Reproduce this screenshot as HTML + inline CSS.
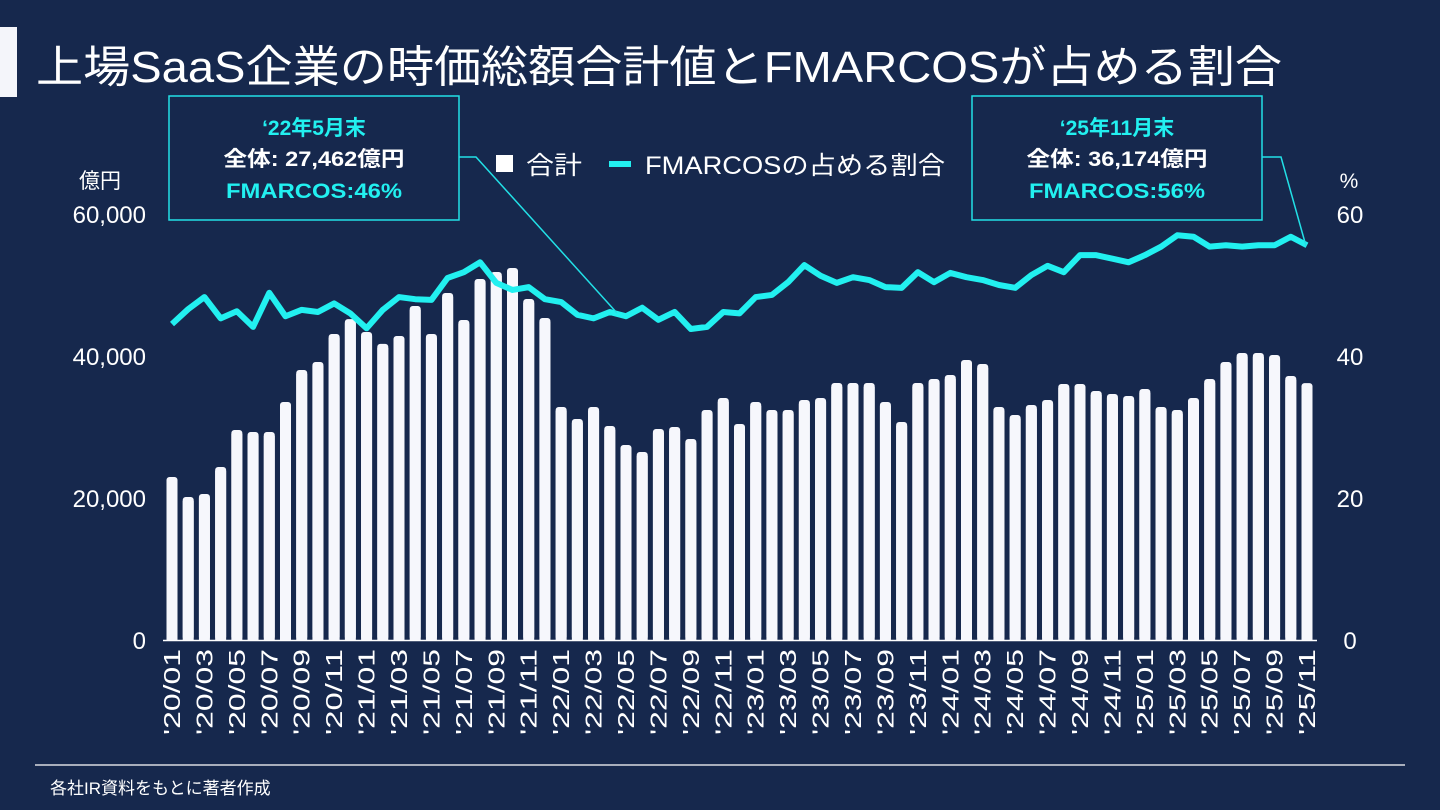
<!DOCTYPE html>
<html><head><meta charset="utf-8"><style>
body{margin:0;width:1440px;height:810px;background:#16284d;overflow:hidden;font-family:"Liberation Sans","Noto Sans CJK JP",sans-serif;color:#fff}
</style></head><body>
<svg width="1440" height="810" xmlns="http://www.w3.org/2000/svg" style="position:absolute;left:0;top:0">
<rect x="0" y="27" width="17" height="70" fill="#f4f5fa"/>
<text x="36" y="82" font-size="44" fill="#fff" textLength="1246" lengthAdjust="spacingAndGlyphs">上場SaaS企業の時価総額合計値とFMARCOSが占める割合</text>
<g id="axes"></g><g id="bars"></g><g id="line"></g>
<g>
<rect x="496" y="155" width="17" height="17" fill="#fff"/>
<text x="526" y="174" font-size="25" fill="#fff" textLength="56" lengthAdjust="spacingAndGlyphs">合計</text>
<line x1="609" y1="164" x2="631" y2="164" stroke="#22f0f0" stroke-width="6"/>
<text x="645" y="174" font-size="25" fill="#fff" textLength="300" lengthAdjust="spacingAndGlyphs">FMARCOSの占める割合</text>
</g>
<g>
<rect x="169" y="96" width="290" height="124" fill="#16284d" stroke="#22e0e6" stroke-width="1.5"/>
<polyline points="459,157 476,157 617,313" fill="none" stroke="#22e0e6" stroke-width="1.5"/>
<text x="314" y="135" font-size="21" font-weight="bold" fill="#22f0f0" text-anchor="middle">‘22年5月末</text>
<text x="314" y="166" font-size="21" font-weight="bold" fill="#fff" text-anchor="middle" textLength="181" lengthAdjust="spacingAndGlyphs">全体: 27,462億円</text>
<text x="314" y="198" font-size="21" font-weight="bold" fill="#22f0f0" text-anchor="middle" textLength="176" lengthAdjust="spacingAndGlyphs">FMARCOS:46%</text>
</g>
<g>
<rect x="972" y="96" width="290" height="124" fill="#16284d" stroke="#22e0e6" stroke-width="1.5"/>
<polyline points="1262,157 1281,157 1306,246" fill="none" stroke="#22e0e6" stroke-width="1.5"/>
<text x="1117" y="135" font-size="21" font-weight="bold" fill="#22f0f0" text-anchor="middle">‘25年11月末</text>
<text x="1117" y="166" font-size="21" font-weight="bold" fill="#fff" text-anchor="middle" textLength="181" lengthAdjust="spacingAndGlyphs">全体: 36,174億円</text>
<text x="1117" y="198" font-size="21" font-weight="bold" fill="#22f0f0" text-anchor="middle" textLength="176" lengthAdjust="spacingAndGlyphs">FMARCOS:56%</text>
</g>
<text x="100" y="188" font-size="21" fill="#fff" text-anchor="middle">億円</text>
<text x="1349" y="188" font-size="21" fill="#fff" text-anchor="middle">%</text>
<line x1="35" y1="765" x2="1405" y2="765" stroke="#fff" stroke-width="1.2"/>
<text x="50" y="794" font-size="17" fill="#fff">各社IR資料をもとに著者作成</text>
</svg>
<script>
const totals=[22960,20140,20560,24370,29580,29300,29300,33520,38030,39160,43100,45200,43380,41700,42820,47040,43100,48870,45070,50850,51830,52390,48030,45350,
32820,31130,32820,30140,27462,26480,29720,30000,28310,32400,34090,30420,33520,32400,32400,33800,34090,36200,36200,36200,33520,30700,36200,36760,
37320,39440,38870,32820,31690,33100,33800,36060,36060,35070,34650,34370,35350,32820,32400,34090,36760,39160,40420,40420,40140,37180,36174];
const shares=[44.5,46.6,48.3,45.3,46.3,44.1,48.9,45.6,46.5,46.2,47.4,46.0,43.9,46.5,48.3,48.0,47.9,51.0,51.8,53.2,50.3,49.3,49.7,48.0,
47.6,45.8,45.3,46.2,45.6,46.8,45.1,46.2,43.8,44.1,46.2,46.0,48.3,48.6,50.4,52.8,51.3,50.3,51.1,50.7,49.7,49.6,51.8,50.4,
51.7,51.1,50.7,50.0,49.6,51.4,52.7,51.8,54.2,54.2,53.7,53.2,54.2,55.4,57.0,56.8,55.4,55.6,55.4,55.6,55.6,56.8,55.6];
const leftTicks=[0,20000,40000,60000];
const rightTicks=[0,20,40,60];
const NS="http://www.w3.org/2000/svg";
const months=totals.map((_,i)=>{const y=20+Math.floor(i/12),m=i%12+1;return "'"+y+"/"+String(m).padStart(2,"0");});
const X=i=>172+i*(1307-172)/70;
const YL=v=>640-v/60000*426;
const YR=v=>640-v/60*426;
function mk(t,a,p){const e=document.createElementNS(NS,t);for(const k in a)e.setAttribute(k,a[k]);p.appendChild(e);return e;}
const ax=document.getElementById('axes');
leftTicks.forEach(v=>{const t=mk('text',{x:146,y:YL(v)+9,'font-size':24,fill:'#fff','text-anchor':'end'},ax);


t.textContent=v.toLocaleString('en-US');});
rightTicks.forEach(v=>{const t=mk('text',{x:1350,y:YR(v)+9,'font-size':24,fill:'#fff','text-anchor':'middle'},ax);


t.textContent=v;});
const base=mk('line',{x1:163,y1:640.5,x2:1317,y2:640.5,stroke:'#fff','stroke-width':1.5},ax);


months.forEach((m,i)=>{if(i%2)return;const x=X(i);
const t=mk('text',{x:0,y:0,'font-size':23,fill:'#fff','text-anchor':'end',textLength:86,lengthAdjust:'spacingAndGlyphs',transform:`translate(${x+8},649) rotate(-90)`},ax);


t.textContent=m;});
const bg=document.getElementById('bars');
totals.forEach((v,i)=>{const y=YL(v);
const r=mk('rect',{x:X(i)-5.5,y:y,width:11,height:640-y,rx:3,fill:'#f6f7fc'},bg);


mk('rect',{x:X(i)-5.5,y:y+4,width:11,height:Math.max(0,636-y),fill:'#f6f7fc'},bg);});
const lg=document.getElementById('line');
const pl=mk('polyline',{points:shares.map((v,i)=>X(i)+','+YR(v)).join(' '),fill:'none',stroke:'#22f0f0','stroke-width':6,'stroke-linejoin':'round'},lg);


</script>
</body></html>
